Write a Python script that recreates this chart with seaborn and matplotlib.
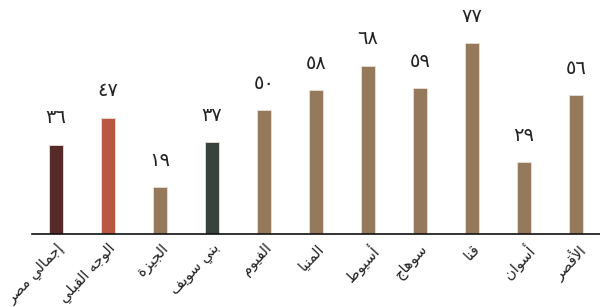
import matplotlib
matplotlib.use('Agg')
import matplotlib.pyplot as plt
import seaborn as sns
import pandas as pd

# chart data
regions = ['إجمالي مصر', 'الوجه القبلي', 'الجيزة', 'بني سويف', 'الفيوم', 'المنيا',
           'أسيوط', 'سوهاج', 'قنا', 'أسوان', 'الأقصر']
values = [36, 47, 19, 37, 50, 58, 68, 59, 77, 29, 56]
bar_colors = ['#5c2320', '#cc4a2e', '#9d7b51', '#37453c', '#9d7b51', '#9d7b51',
              '#9d7b51', '#9d7b51', '#9d7b51', '#9d7b51', '#9d7b51']

# matplotlib has no arabic shaping, so do a small one by hand
# (presentation form base code, number of forms)
FORMS = {
    'ا': (0xFE8D, 2), 'أ': (0xFE83, 2), 'إ': (0xFE87, 2), 'ة': (0xFE93, 2),
    'ر': (0xFEAD, 2), 'ز': (0xFEAF, 2), 'و': (0xFEED, 2),
    'ب': (0xFE8F, 4), 'ج': (0xFE9D, 4), 'س': (0xFEB1, 4), 'ص': (0xFEB9, 4),
    'ط': (0xFEC1, 4), 'ف': (0xFED1, 4), 'ق': (0xFED5, 4), 'ل': (0xFEDD, 4),
    'م': (0xFEE1, 4), 'ن': (0xFEE5, 4), 'ه': (0xFEE9, 4), 'ي': (0xFEF1, 4),
}
LAM_ALEF = {'ا': 0xFEFB, 'أ': 0xFEF7, 'إ': 0xFEF9}


def joins_next(ch):
  return ch in FORMS and FORMS[ch][1] == 4


def shape(text):
  out = []
  i = 0
  n = len(text)
  while i < n:
    ch = text[i]
    if ch not in FORMS:
      out.append(ch)
      i += 1
      continue
    prev = text[i - 1] if i > 0 else ''
    con_prev = joins_next(prev) and not (out and out[-1] in '\ufefb\ufefc\ufef7\ufef8\ufef9\ufefa')
    if ch == 'ل' and i + 1 < n and text[i + 1] in LAM_ALEF:
      out.append(chr(LAM_ALEF[text[i + 1]] + (1 if con_prev else 0)))
      i += 2
      continue
    nxt = text[i + 1] if i + 1 < n else ''
    base, count = FORMS[ch]
    con_next = count == 4 and nxt in FORMS
    if con_prev and con_next:
      code = base + 3
    elif con_prev:
      code = base + 1
    elif con_next:
      code = base + 2
    else:
      code = base
    out.append(chr(code))
    i += 1
  return ''.join(reversed(out))


def arabic_digits(num):
  return ''.join(chr(0x0660 + int(d)) for d in str(num))


df = pd.DataFrame({'region': [shape(r) for r in regions], 'value': values})

sns.set_style('white')
plt.rcParams['font.family'] = ['DejaVu Sans']

fig = plt.figure(figsize=(6, 3.07), dpi=100)
ax = fig.add_axes([0.0533, 0.238, 0.9467, 0.762])
sns.barplot(data=df, x='region', y='value', hue='region', palette=bar_colors,
            width=0.27, legend=False, ax=ax, edgecolor='#e8e0d8', linewidth=0.6)

for i, v in enumerate(values):
  ax.text(i, v + 7, arabic_digits(v), ha='center', va='bottom', fontsize=14, color='#222222')

ax.set_xlim(-0.46, 10.46)
ax.set_ylim(0, 94.5)
sns.despine(ax=ax, left=True)
ax.spines['bottom'].set_color('#111111')
ax.spines['bottom'].set_linewidth(1.2)
ax.set_yticks([])
ax.set_xlabel('')
ax.set_ylabel('')
ax.tick_params(axis='x', length=0, pad=5)
for lab in ax.get_xticklabels():
  lab.set_rotation(47)
  lab.set_ha('right')
  lab.set_rotation_mode('anchor')
  lab.set_fontsize(10.5)
  lab.set_color('#222222')
  lab.set_x(lab.get_position()[0])

fig.savefig('out.png', dpi=100)
